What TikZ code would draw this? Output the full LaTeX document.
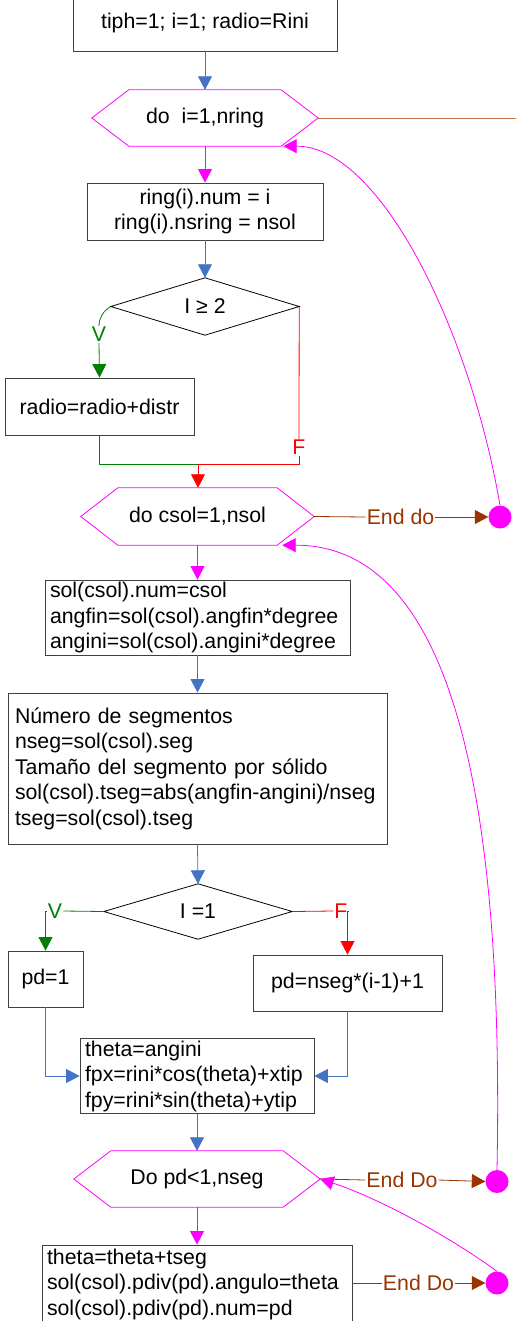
\documentclass[tikz,border=0pt]{standalone}
\usepackage{fontspec}
\setmainfont{Liberation Sans}
\usetikzlibrary{arrows.meta}
\definecolor{bl}{RGB}{68,114,196}
\definecolor{mg}{RGB}{255,0,255}
\definecolor{gr}{RGB}{0,128,0}
\definecolor{rd}{RGB}{255,0,0}
\definecolor{br}{RGB}{153,51,0}
\definecolor{org}{RGB}{197,120,80}
\definecolor{bx}{RGB}{64,64,64}
\newcommand\hexoutline[2]{%
  \draw[mg, line width=0.8pt] (#1.west) -- ([xshift=#2]#1.north west) -- ([xshift=-#2]#1.north east)
    -- (#1.east) -- ([xshift=-#2]#1.south east) -- ([xshift=#2]#1.south west) -- cycle;}
\newcommand\diaoutline[1]{%
  \draw[black, line width=0.8pt] (#1.north) -- (#1.east) -- (#1.south) -- (#1.west) -- cycle;}
\tikzset{
  box/.style={draw=bx, line width=0.9pt, inner sep=0pt, align=center},
  lbox/.style={draw=bx, line width=0.9pt, inner xsep=5pt, inner ysep=0pt, align=left},
  holder/.style={inner sep=0pt, align=center},
  lab/.style={inner sep=1pt},
  dot/.style={circle, fill=mg, minimum size=23pt, inner sep=0pt},
  arr/.style={-{Triangle[length=13.5pt,width=14pt]}},
  conn/.style={line width=0.8pt},
}
\begin{document}
\begin{tikzpicture}[x=1pt,y=-1pt, font=\fontsize{21.3}{25.5}\selectfont]
\useasboundingbox (0,0) rectangle (516,1321);
% nodes
\node[box, minimum width=264pt, minimum height=56pt] (b1) at (205,23) {tiph=1; i=1; radio=Rini};
\node[holder, minimum width=226pt, minimum height=56pt] (h1) at (205,118) {do\ \ i=1,nring};
\node[box, minimum width=236pt, minimum height=57pt] (b2) at (205,211.5) {ring(i).num = i\\ring(i).nsring = nsol};
\node[holder, minimum width=188pt, minimum height=57pt] (d1) at (205,306.5) {I ≥ 2};
\node[lab, text=gr] (v1) at (99,334.5) {V};
\node[box, minimum width=189pt, minimum height=57pt] (b3) at (99.5,406.5) {radio=radio+distr};
\node[lab, text=rd] (f1) at (299,447.5) {F};
\coordinate (j1) at (198,464);
\node[holder, minimum width=233pt, minimum height=57pt] (h2) at (197.5,516.5) {do csol=1,nsol};
\node[lab, text=br] (e1) at (400.5,517) {End do};
\node[dot] (c1) at (500,517) {};
\node[lbox, text width=295pt, minimum height=75pt] (b4) at (197.5,617.5)
  {sol(csol).num=csol\\angfin=sol(csol).angfin*degree\\angini=sol(csol).angini*degree};
\node[lbox, text width=365pt, inner xsep=7pt, minimum height=151pt] (b5) at (197.5,768.5)
  {Número de segmentos\\nseg=sol(csol).seg\\Tamaño del segmento por sólido\\sol(csol).tseg=abs(angfin-angini)/nseg\\tseg=sol(csol).tseg};
\node[holder, minimum width=188pt, minimum height=55pt] (d2) at (198,911.5) {I =1};
\node[lab, text=gr] (v2) at (55,911) {V};
\node[lab, text=rd] (f2) at (341,911) {F};
\node[box, minimum width=75pt, minimum height=56pt] (b6) at (45.5,979) {pd=1};
\node[box, minimum width=189pt, minimum height=56pt] (b7) at (347.5,983) {pd=nseg*(i-1)+1};
\node[lbox, text width=224pt, minimum height=75pt] (b8) at (197,1076)
  {theta=angini\\fpx=rini*cos(theta)+xtip\\fpy=rini*sin(theta)+ytip};
\node[holder, minimum width=246pt, minimum height=56pt] (h3) at (197,1179) {Do pd<1,nseg};
\node[lab, text=br] (e2) at (402,1180) {End Do};
\node[dot] (c2) at (497,1181.5) {};
\node[lbox, text width=300pt, minimum height=78pt] (b9) at (197,1284)
  {theta=theta+tseg\\sol(csol).pdiv(pd).angulo=theta\\sol(csol).pdiv(pd).num=pd};
\node[lab, text=br] (e3) at (418.5,1283) {End Do};
\node[dot] (c3) at (497,1283) {};
\coordinate (exit) at (530,118);
% outlines
\hexoutline{h1}{37pt}
\hexoutline{h2}{37pt}
\hexoutline{h3}{37pt}
\diaoutline{d1}
\diaoutline{d2}
% connectors
\draw[conn, bl, arr] (b1.south) -- (h1.north);
\draw[conn, mg, arr] (h1.south) -- (b2.north);
\draw[conn, bl, arr] (b2.south) -- (d1.north);
\draw[conn, gr] (d1.west) .. controls (103,311) and (99,318) .. (v1.north);
\draw[conn, gr, arr] (v1.south) -- (b3.north);
\draw[conn, rd] (d1.east) -- (f1.north);
\draw[conn, rd] (f1.south) |- (j1);
\draw[conn, gr] (b3.south) |- (j1);
\draw[conn, rd, arr] (j1) -- (j1 |- h2.north);
\draw[conn, org] (h1.east) -- (exit);
\draw[conn, br] (h2.east) -- (e1.west);
\draw[conn, br, arr] (e1.east) -- (c1.west);
\draw[conn, mg, arr] (c1.north) .. controls (470,330) and (380,146) .. ([xshift=-35pt]h1.south east);
\draw[conn, mg, arr] (h2.south) -- (b4.north);
\draw[conn, bl, arr] (b4.south) -- (b5.north);
\draw[conn, bl, arr] (b5.south) -- (d2.north);
\draw[conn, gr] (d2.west) -- (v2.east);
\draw[conn, gr, arr] (v2.west) -| (b6.north);
\draw[conn, rd] (d2.east) -- (f2.west);
\draw[conn, rd, arr] (f2.east) -| (b7.north);
\draw[conn, bl, arr] (b6.south) |- (b8.west);
\draw[conn, bl, arr] (b7.south) |- (b8.east);
\draw[conn, bl, arr] (b8.south) -- (h3.north);
\draw[conn, mg, arr] (h3.south) -- (b9.north);
\draw[conn, br] (h3.east) -- (e2.west);
\draw[conn, br, arr] (e2.east) -- (c2.west);
\draw[conn, mg, arr] (c2.north) .. controls (505,760) and (440,545) .. ([xshift=-32pt]h2.south east);
\draw[conn, mg, arr] (c3.north) .. controls (440,1230) and (370,1195) .. (h3.east);
\draw[conn, br] (e3.west -| b9.east) -- (e3.west);
\draw[conn, br, arr] (e3.east) -- (c3.west);
\end{tikzpicture}
\end{document}
